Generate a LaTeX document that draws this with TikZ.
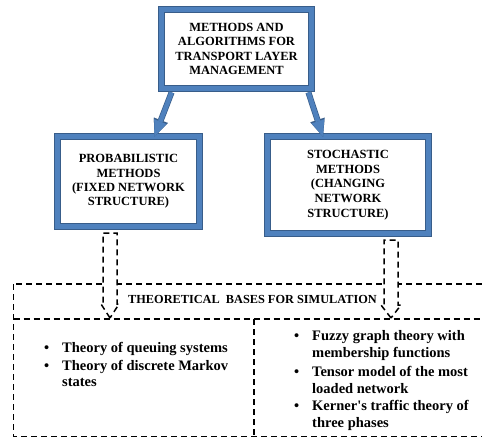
\documentclass[tikz,border=0pt]{standalone}
\usepackage{fontspec}
\setmainfont{Liberation Serif}
\usetikzlibrary{arrows.meta,calc}
\definecolor{bblue}{HTML}{4F81BD}
\definecolor{bdark}{HTML}{385D8A}
\newcommand\mybul{\makebox[18pt][l]{\textbullet}}
\tikzset{
  mbox/.style={draw=bdark, line width=0.8pt, double=bblue, double distance=5.4pt,
    fill=white, align=center, inner sep=0pt,
    font=\bfseries\fontsize{12.5}{14.3}\selectfont},
  barrow/.style={draw=bblue, line width=4.6pt,
    -{Triangle[length=16pt,width=13pt,line width=0.01pt]},
    preaction={draw=bdark, line width=6pt, -{Triangle[length=17.5pt,width=15pt,line width=0.01pt]}}},
  dline/.style={draw=black, line width=1.5pt, dash pattern=on 6pt off 4pt},
  darrow/.style={dline, fill=white, line join=miter},
  lst/.style={inner sep=0pt, font=\bfseries\fontsize{14.5}{16.8}\selectfont},
  hdr/.style={inner sep=0pt, font=\bfseries\fontsize{12.3}{14}\selectfont},
}
\begin{document}
\begin{tikzpicture}[x=1pt,y=-1pt]
\useasboundingbox (0,0) rectangle (482,441);
\clip (0,0) rectangle (482,441);
% boxes
\node[mbox, minimum width=150pt, minimum height=79pt] (top) at (236.5,49)
  {METHODS AND\\ALGORITHMS FOR\\TRANSPORT LAYER\\MANAGEMENT};
\node[mbox, minimum width=142pt, minimum height=90pt] (left) at (128.5,181.5)
  {PROBABILISTIC\\METHODS\\(FIXED NETWORK\\STRUCTURE)};
\node[mbox, minimum width=161pt, minimum height=97pt, font=\bfseries\fontsize{12.5}{14.8}\selectfont] (right) at (348,185)
  {STOCHASTIC\\METHODS\\(CHANGING\\NETWORK\\STRUCTURE)};
% blue arrows
\draw[barrow] ($(top.south west)+(10.5,3.5)$) -- ($(left.north)+(26,0.5)$);
\draw[barrow] ($(top.south east)+(-3.5,3.5)$) -- ($(right.north)+(-25,0.5)$);
% dashed frame
\coordinate (frTL) at (13.5,284);
\coordinate (frBR) at (500,436.5);
\draw[dline] (frTL) rectangle (frBR);
\coordinate (midL) at (13.5,319);
\coordinate (midR) at (500,319);
\draw[dline] (midL) -- (midR);
\coordinate (divT) at (254,319);
\coordinate (divB) at (254,436.5);
\draw[dline] (divT) -- (divB);
\node[hdr] (hdrtxt) at (252.5,299.5) {THEORETICAL\ \ BASES FOR SIMULATION};
% dashed block arrows
\coordinate (tL) at (110,318);
\coordinate (tR) at (391,318);
\draw[darrow] (tL) -- ++(-9,-14) -- ++(2,0) -- ++(0,-71) -- ++(14,0) -- ++(0,71) -- ++(2,0) -- cycle;
\draw[darrow] (tR) -- ++(-10,-13) -- ++(3,0) -- ++(0,-65) -- ++(14,0) -- ++(0,65) -- ++(3,0) -- cycle;
% lists
\node[lst, anchor=north west] (lstL) at (44,340.9) {%
\begin{tabular}{@{}l@{}l@{}}
\mybul & Theory of queuing systems\\[0.5pt]
\mybul & Theory of discrete Markov\\
 & states
\end{tabular}};
\node[lst, anchor=north west] (lstR) at (294,328.9) {%
\begin{tabular}{@{}l@{}l@{}}
\mybul & Fuzzy graph theory with\\
 & membership functions\\[2pt]
\mybul & Tensor model of the most\\
 & loaded network\\[0.5pt]
\mybul & Kerner\textquotesingle s traffic theory of\\
 & three phases
\end{tabular}};
\end{tikzpicture}
\end{document}
